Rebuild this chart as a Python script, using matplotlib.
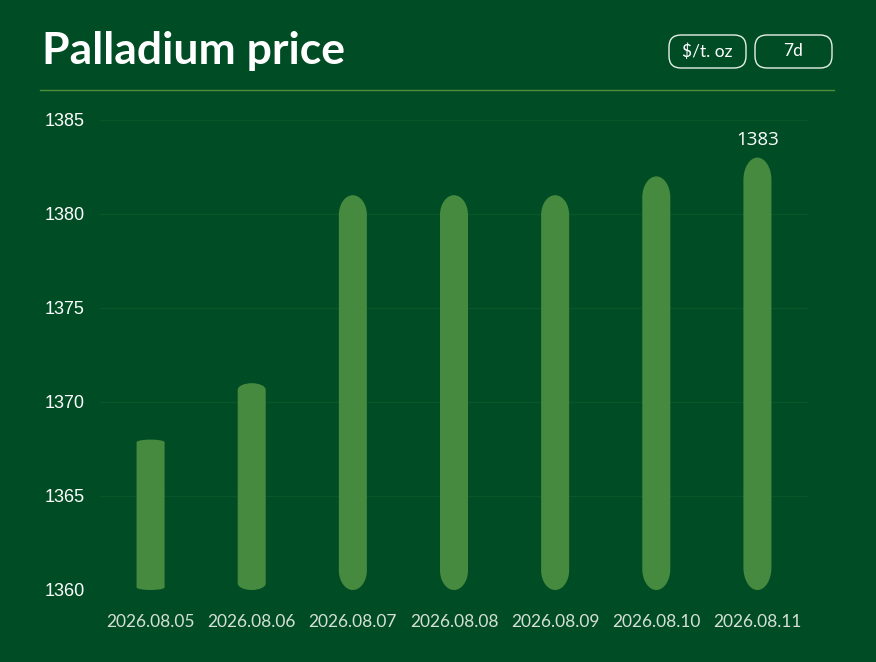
import numpy as np
import matplotlib.pyplot as plt
from matplotlib.patches import FancyBboxPatch, Path, PathPatch

dates = ["2026.08.05", "2026.08.06", "2026.08.07", "2026.08.08",
         "2026.08.09", "2026.08.10", "2026.08.11"]
prices = [1368, 1371, 1381, 1381, 1381, 1382, 1383]
yticks = [1360, 1365, 1370, 1375, 1380, 1385]
base = 1360

bg = "#004d25"
bar_color = "#468a3f"
grid_color = "#08562a"

fig = plt.figure(figsize=(8.76, 6.62), dpi=100, facecolor=bg)
ax = fig.add_axes([100 / 876, 72 / 662, 708 / 876, 470 / 662])
ax.set_facecolor(bg)
ax.set_xlim(-0.5, len(dates) - 0.5)
ax.set_ylim(base, 1385)

for y in yticks:
    ax.axhline(y, color=grid_color, lw=1, zorder=0)


def capsule(xc, w, y0, y1, ry):
    # rectangle with elliptic ends (x radius = w/2, y radius = ry)
    rx = w / 2
    k = 0.5523
    verts = [
        (xc - rx, y0 + ry),
        (xc - rx, y1 - ry),
        (xc - rx, y1 - ry + k * ry), (xc - k * rx, y1), (xc, y1),
        (xc + k * rx, y1), (xc + rx, y1 - ry + k * ry), (xc + rx, y1 - ry),
        (xc + rx, y0 + ry),
        (xc + rx, y0 + ry - k * ry), (xc + k * rx, y0), (xc, y0),
        (xc - k * rx, y0), (xc - rx, y0 + ry - k * ry), (xc - rx, y0 + ry),
        (xc - rx, y0 + ry),
    ]
    codes = [Path.MOVETO, Path.LINETO,
             Path.CURVE4, Path.CURVE4, Path.CURVE4,
             Path.CURVE4, Path.CURVE4, Path.CURVE4,
             Path.LINETO,
             Path.CURVE4, Path.CURVE4, Path.CURVE4,
             Path.CURVE4, Path.CURVE4, Path.CURVE4,
             Path.CLOSEPOLY]
    return PathPatch(Path(verts, codes), facecolor=bar_color, edgecolor="none", zorder=2)


bw = 0.277
for i, p in enumerate(prices):
    h = p - base
    ry = max(0.1, (h - 6) * 0.07)
    ax.add_patch(capsule(i, bw, base, p, ry))

ax.text(len(prices) - 1, prices[-1] + 0.45, str(prices[-1]), ha="center", va="bottom",
        color="white", fontsize=13.5, family="Open Sans")

ax.set_xticks(range(len(dates)))
ax.set_xticklabels(dates, color="#d6dfd6", fontsize=12.5, family="Lato")
ax.set_yticks(yticks)
ax.set_yticklabels([str(v) for v in yticks], color="white", fontsize=13, family="Liberation Sans")
for lab in ax.get_yticklabels():
    lab.set_horizontalalignment("left")
ax.tick_params(axis="y", length=0, pad=40)
ax.tick_params(axis="x", length=0, pad=17)
for s in ax.spines.values():
    s.set_visible(False)

fig.text(42 / 876, 1 - 51 / 662, "Palladium price", color="white", fontsize=32,
         fontweight="bold", family="Lato", va="center", ha="left")

fig.add_artist(plt.Line2D([40 / 876, 834 / 876], [1 - 90 / 662, 1 - 90 / 662],
                          color="#4f8f3a", lw=1))

for x0, x1, label in [(669, 746, "$/t. oz"), (755, 832, "7d")]:
    box = FancyBboxPatch((x0, 662 - 68), x1 - x0, 33,
                         boxstyle="round,pad=0,rounding_size=12",
                         transform=None, facecolor="none", edgecolor="#e8efe8", lw=1)
    fig.add_artist(box)
    fig.text((x0 + x1) / 2 / 876, 1 - 51.5 / 662, label, color="white", fontsize=12.5,
             family="Lato", ha="center", va="center")

fig.savefig("out.png", dpi=100, facecolor=bg)
